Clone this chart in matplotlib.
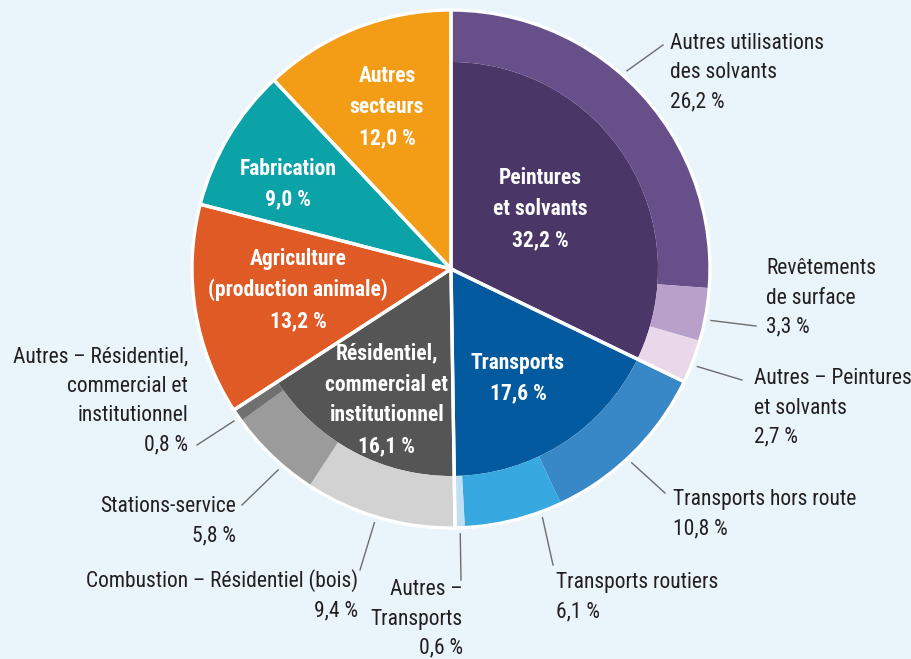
import math
import matplotlib
matplotlib.use('Agg')
import matplotlib.pyplot as plt
from matplotlib.patches import Wedge
from matplotlib import font_manager

# données (%)
main_labels = ['Peintures\net solvants', 'Transports',
               'Résidentiel,\ncommercial et\ninstitutionnel',
               'Agriculture\n(production animale)', 'Fabrication', 'Autres\nsecteurs']
main_values = [32.2, 17.6, 16.1, 13.2, 9.0, 12.0]
main_colors = ['#4a3768', '#045a9e', '#555555', '#e05a25', '#0ba2a8', '#f39c16']

sub_labels = {
    0: ['Autres utilisations\ndes solvants', 'Revêtements\nde surface', 'Autres – Peintures\net solvants'],
    1: ['Transports hors route', 'Transports routiers', 'Autres –\nTransports'],
    2: ['Combustion – Résidentiel (bois)', 'Stations-service',
        'Autres – Résidentiel,\ncommercial et\ninstitutionnel'],
}
sub_values = {
    0: [26.2, 3.3, 2.7],
    1: [10.8, 6.1, 0.6],
    2: [9.4, 5.8, 0.8],
}
sub_colors = {
    0: ['#674f8a', '#b9a0cb', '#e8d8ea'],
    1: ['#3888c8', '#37a8e0', '#bee0f2'],
    2: ['#d2d2d2', '#9b9b9b', '#707070'],
}

def fmt(v):
    return f'{v:.1f}'.replace('.', ',') + ' %'

# police étroite si dispo
names = set(f.name for f in font_manager.fontManager.ttflist)
fam = 'Liberation Sans'
for cand in ['Roboto Condensed', 'Liberation Sans Narrow', 'Arial Narrow',
             'Archivo Narrow', 'Barlow Semi Condensed']:
    if cand in names:
        fam = cand
        break
plt.rcParams['font.family'] = [fam, 'DejaVu Sans']

W, H = 912, 659
bg = '#eaf4fb'
fig = plt.figure(figsize=(W / 100, H / 100), dpi=100, facecolor=bg)
ax = fig.add_axes([0, 0, 1, 1])
ax.set_xlim(0, W)
ax.set_ylim(H, 0)  # coordonnées pixels, y vers le bas
ax.axis('off')

cx, cy = 451, 269
R = 259
r_in = 207
fs = 15.5
ls = 1.52

def pt(ang, rad):
    a = math.radians(ang)
    return cx + rad * math.cos(a), cy - rad * math.sin(a)

# y inversé : angles négatifs -> sens horaire à l'écran
total = sum(main_values)
start = 90.0
spans = []
for i, v in enumerate(main_values):
    span = v / total * 360
    spans.append((start, span))
    t1, t2 = start - span, start
    if i in sub_values:
        ax.add_patch(Wedge((cx, cy), r_in, -t2, -t1, facecolor=main_colors[i], lw=0))
        s = start
        ssum = sum(sub_values[i])
        for sv, sc in zip(sub_values[i], sub_colors[i]):
            sspan = span * sv / ssum
            ax.add_patch(Wedge((cx, cy), R, -s, -(s - sspan), width=R - r_in,
                               facecolor=sc, lw=0))
            s -= sspan
    else:
        ax.add_patch(Wedge((cx, cy), R, -t2, -t1, facecolor=main_colors[i], lw=0))
    start -= span

# bordures blanches
for (s, span) in spans:
    ax.add_patch(Wedge((cx, cy), R, -s, -(s - span), facecolor='none',
                       edgecolor='white', lw=2.4, joinstyle='miter'))

# étiquettes internes (positions en pixels)
inner_pos = [(540, 209), (518, 378), (387, 400), (298, 290), (288, 184), (387, 107)]
for lab, v, (x, y) in zip(main_labels, main_values, inner_pos):
    ax.text(x, y, lab + '\n' + fmt(v), ha='center', va='center', color='white',
            fontsize=fs, fontweight='semibold', linespacing=ls)

# étiquettes externes : (groupe, index, angle départ, fin ligne, centre texte, ha)
outer = [
    (0, 0, 48.4, (663, 45), (670, 73), 'left'),
    (0, 1, -11.2, (756, 326), (766, 298), 'left'),
    (0, 2, -21.6, (742, 380), (754, 408), 'left'),
    (1, 0, -47.0, (665, 493), (673, 514), 'left'),
    (1, 1, -69.8, (553, 565), (556, 597), 'left'),
    (1, 2, -88.0, (461, 580), (463, 619), 'right'),
    (2, 0, -106.8, (360, 570), (358, 595), 'right'),
    (2, 1, -130.7, (242, 505), (236, 521), 'right'),
    (2, 2, -145.0, (197, 445), (188, 401), 'right'),
]
for g, k, ang, end, anchor, ha in outer:
    x0, y0 = pt(ang, 265)
    ax.plot([x0, end[0]], [y0, end[1]], color='#6d6d6d', lw=1.0)
    ax.text(anchor[0], anchor[1], sub_labels[g][k] + '\n' + fmt(sub_values[g][k]),
            ha=ha, va='center', color='#231f20', fontsize=fs, linespacing=ls,
            multialignment=ha)

fig.savefig('out.png', dpi=100, facecolor=bg)
